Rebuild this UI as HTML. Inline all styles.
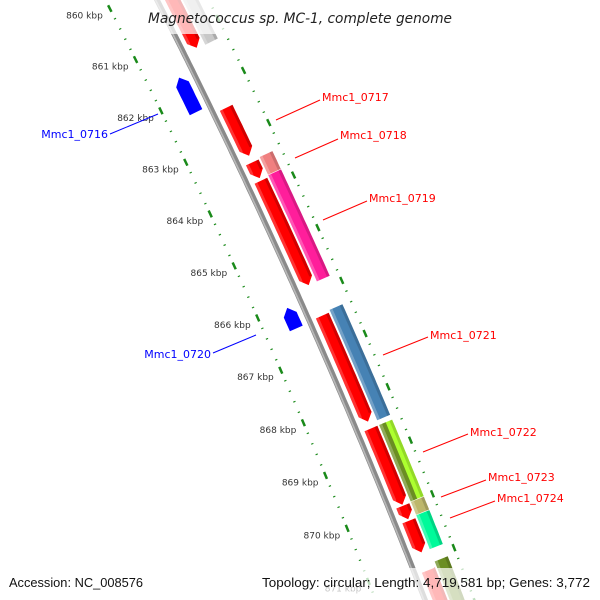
<!DOCTYPE html>
<html><head><meta charset="utf-8"><style>
html,body{margin:0;background:#fff;width:600px;height:600px;overflow:hidden}
svg{display:block;font-family:"DejaVu Sans","Liberation Sans",sans-serif}
</style></head><body>
<svg id="map" width="600" height="600" viewBox="0 0 600 600" xmlns="http://www.w3.org/2000/svg" overflow="hidden">
<g id="ticks"></g>
<g id="backbone"></g>
<g id="features"></g>
<g id="labels">
<line x1="276" y1="120" x2="320" y2="100" stroke="#ff0000" stroke-width="1"/>
<text x="322" y="101" font-size="11" fill="#ff0000">Mmc1_0717</text>
<line x1="295" y1="158" x2="338" y2="139" stroke="#ff0000" stroke-width="1"/>
<text x="340" y="139" font-size="11" fill="#ff0000">Mmc1_0718</text>
<line x1="323" y1="220" x2="367" y2="201" stroke="#ff0000" stroke-width="1"/>
<text x="369" y="202" font-size="11" fill="#ff0000">Mmc1_0719</text>
<line x1="383" y1="355" x2="428" y2="337" stroke="#ff0000" stroke-width="1"/>
<text x="430" y="339" font-size="11" fill="#ff0000">Mmc1_0721</text>
<line x1="423" y1="452" x2="468" y2="434" stroke="#ff0000" stroke-width="1"/>
<text x="470" y="436" font-size="11" fill="#ff0000">Mmc1_0722</text>
<line x1="441" y1="497" x2="486" y2="480" stroke="#ff0000" stroke-width="1"/>
<text x="488" y="481" font-size="11" fill="#ff0000">Mmc1_0723</text>
<line x1="450" y1="518" x2="495" y2="501" stroke="#ff0000" stroke-width="1"/>
<text x="497" y="502" font-size="11" fill="#ff0000">Mmc1_0724</text>
<line x1="110" y1="134" x2="158" y2="114" stroke="#0000ff" stroke-width="1"/>
<text x="108" y="138" font-size="11" fill="#0000ff" text-anchor="end">Mmc1_0716</text>
<line x1="213" y1="353" x2="256" y2="335" stroke="#0000ff" stroke-width="1"/>
<text x="211" y="358" font-size="11" fill="#0000ff" text-anchor="end">Mmc1_0720</text>
</g>
<rect x="145" y="0" width="310" height="34" fill="#fff" fill-opacity="0.72"/>
<text x="148" y="23" font-size="14" font-style="italic" textLength="304" lengthAdjust="spacingAndGlyphs" fill="#222">Magnetococcus sp. MC-1, complete genome</text>
<rect x="0" y="568" width="600" height="32" fill="#fff" fill-opacity="0.72"/>
<text x="9" y="587" font-size="13" fill="#111" textLength="134" lengthAdjust="spacingAndGlyphs" font-family="Liberation Sans, sans-serif">Accession: NC_008576</text>
<text x="262" y="587" font-size="13" fill="#111" textLength="328" lengthAdjust="spacingAndGlyphs" font-family="Liberation Sans, sans-serif">Topology: circular; Length: 4,719,581 bp; Genes: 3,772</text>
</svg>
<script>
// data (bp)
const fwdStarts=[859500,862450,863500,863850,866420,868550,870000,870280,871200];
const fwdEnds=[861290,863370,863800,865840,868420,869980,870250,870870,872600];
const revStarts=[861620,866050];
const revEnds=[862290,866440];
const cogStarts=[859500,863470,863820,866380,868550,869990,870240,871100];
const cogEnds=[861310,863810,865840,868460,869980,870230,870870,872600];
const cogColors=["#c8c8c8","#f08080","#ff1e9b","#4682b4","#adff2f","#bdb76b","#00fa9a","#6b8e23"];
const cogHalf=[false,false,false,false,true,false,false,false];
const tickKbp=[860,861,862,863,864,865,866,867,868,869,870,871];

const NS="http://www.w3.org/2000/svg";
const CX=-5702,CY=2977,R0=6572,TH0=-0.47222,DTH=0.008759/1000;
function pt(bp,n){const t=TH0+(bp-860000)*DTH,r=R0+n;return [CX+r*Math.cos(t),CY+r*Math.sin(t)];}
function arc(a,b,n){const out=[];const steps=Math.max(2,Math.ceil((b-a)/100));for(let i=0;i<=steps;i++)out.push(pt(a+(b-a)*i/steps,n));return out;}
function poly(g,pts,fill,op,name){const p=document.createElementNS(NS,"polygon");
p.setAttribute("points",pts.map(q=>q[0].toFixed(1)+","+q[1].toFixed(1)).join(" "));
p.setAttribute("fill",fill);if(op!==undefined)p.setAttribute("fill-opacity",op);


g.appendChild(p);return p;}
function box(a,b,lo,hi){return arc(a,b,lo).concat(arc(a,b,hi).reverse());}
function fwdArrow(a,b,lo,hi){const h=Math.min(130,(b-a)*0.6);return arc(a,b-h,lo).concat([pt(b,(lo+hi)/2)]).concat(arc(a,b-h,hi).reverse());}
function revArrow(a,b,lo,hi){const h=Math.min(130,(b-a)*0.6);return [pt(a,(lo+hi)/2)].concat(arc(a+h,b,lo)).concat(arc(a+h,b,hi).reverse());}
function shade(g,a,b,lo,hi,name){
 poly(g,box(a,b,lo,lo+3),"#fff",0.25,name+"-highlight");
 poly(g,box(a,b,hi-3,hi),"#000",0.15,name+"-shadow");}

// ticks
const tg=document.getElementById("ticks");
for(let k=859;k<=872;k++){for(let m=0;m<5;m++){const bp=k*1000+m*200;const major=m===0;const w=major?65:10;
 [-46,46].forEach(n=>{const a=pt(bp-w,n),b=pt(bp+w,n);const l=document.createElementNS(NS,"line");
 l.setAttribute("x1",a[0]);l.setAttribute("y1",a[1]);l.setAttribute("x2",b[0]);l.setAttribute("y2",b[1]);
 l.setAttribute("stroke","#1a8a1a");l.setAttribute("stroke-width",major?2.5:2.4);
 
 
 tg.appendChild(l);});}}
tickKbp.forEach(k=>{const p=pt(k*1000,-46);const t=document.createElementNS(NS,"text");
 t.setAttribute("x",p[0]-7);t.setAttribute("y",p[1]+10);t.setAttribute("font-size","9");t.setAttribute("fill","#333");
 t.setAttribute("text-anchor","end");t.textContent=k+" kbp";
 
 
 tg.appendChild(t);});

// backbone
const bg=document.getElementById("backbone");
function arcPath(n){return "M"+arc(857000,873000,n).map(q=>q[0].toFixed(1)+","+q[1].toFixed(1)).join(" L");}
[[0,"#8a8a8a",5.5],[-1.3,"#b8b8b8",1.6]].forEach(s=>{const p=document.createElementNS(NS,"path");
 p.setAttribute("d",arcPath(s[0]));p.setAttribute("stroke",s[1]);p.setAttribute("stroke-width",s[2]);p.setAttribute("fill","none");
 
 
 bg.appendChild(p);});

// features
const fg=document.getElementById("features");
fwdStarts.forEach((s,i)=>{const e=fwdEnds[i];
 poly(fg,fwdArrow(s,e,7,21),"#ff0000",undefined,"forward-gene");
 poly(fg,fwdArrow(s,e,7,10),"#fff",0.2,"forward-gene-highlight");
 poly(fg,box(s,e-Math.min(130,(e-s)*0.6),18,21),"#000",0.18,"forward-gene-shadow");});
revStarts.forEach((s,i)=>{const e=revEnds[i];
 poly(fg,revArrow(s,e,-22,-8),"#0000ff",undefined,"reverse-gene");});
cogStarts.forEach((s,i)=>{const e=cogEnds[i];
 poly(fg,box(s,e,23,37),cogColors[i],undefined,"cog-gene");
 if(cogHalf[i])poly(fg,box(s,e,23,30),"#6b8e23",undefined,"cog-gene-inner");
 shade(fg,s,e,23,37,"cog-gene");});
</script>
</body></html>
